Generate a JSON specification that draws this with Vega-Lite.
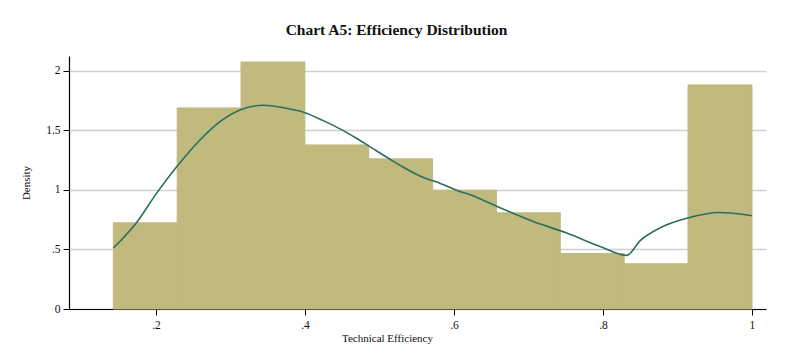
{
  "$schema": "https://vega.github.io/schema/vega-lite/v6.json",
  "autosize": "none",
  "width": 697,
  "height": 253,
  "padding": {"left": 69, "top": 56, "right": 25, "bottom": 52},
  "background": "white",
  "title": {"text": "Chart A5: Efficiency Distribution", "font": "Liberation Serif", "fontSize": 15.5, "fontWeight": "bold", "color": "#111111", "anchor": "middle", "dx": -21, "offset": 18},
  "config": {
    "view": {"stroke": null},
    "axis": {"labelFont": "Liberation Serif", "titleFont": "Liberation Serif", "labelFontSize": 11.5, "titleFontSize": 11, "titleFontWeight": "normal", "labelColor": "#111111", "titleColor": "#111111", "domainColor": "#000000", "tickColor": "#000000", "domainWidth": 1.2, "tickWidth": 1, "tickSize": 6}
  },
  "datasets": {
    "bins": [
      {"start": 0.1427, "end": 0.2284, "density": 0.724},
      {"start": 0.2284, "end": 0.3141, "density": 1.689},
      {"start": 0.3141, "end": 0.3998, "density": 2.075},
      {"start": 0.3998, "end": 0.4856, "density": 1.378},
      {"start": 0.4856, "end": 0.5713, "density": 1.261},
      {"start": 0.5713, "end": 0.6570, "density": 0.998},
      {"start": 0.6570, "end": 0.7427, "density": 0.808},
      {"start": 0.7427, "end": 0.8284, "density": 0.466},
      {"start": 0.8284, "end": 0.9141, "density": 0.380},
      {"start": 0.9141, "end": 1.0, "density": 1.882}
    ],
    "kde": [
      {"x": 0.1427, "y": 0.512},
      {"x": 0.174, "y": 0.727},
      {"x": 0.2009, "y": 0.973},
      {"x": 0.228, "y": 1.196},
      {"x": 0.259, "y": 1.420},
      {"x": 0.2859, "y": 1.574},
      {"x": 0.3128, "y": 1.672},
      {"x": 0.344, "y": 1.711},
      {"x": 0.3754, "y": 1.686},
      {"x": 0.400, "y": 1.649},
      {"x": 0.4245, "y": 1.582},
      {"x": 0.447, "y": 1.513},
      {"x": 0.469, "y": 1.434},
      {"x": 0.487, "y": 1.364},
      {"x": 0.514, "y": 1.258},
      {"x": 0.532, "y": 1.191},
      {"x": 0.559, "y": 1.104},
      {"x": 0.581, "y": 1.057},
      {"x": 0.608, "y": 0.987},
      {"x": 0.622, "y": 0.960},
      {"x": 0.6528, "y": 0.875},
      {"x": 0.7065, "y": 0.735},
      {"x": 0.7513, "y": 0.638},
      {"x": 0.796, "y": 0.525},
      {"x": 0.8318, "y": 0.450},
      {"x": 0.85, "y": 0.575},
      {"x": 0.8676, "y": 0.651},
      {"x": 0.8855, "y": 0.707},
      {"x": 0.9124, "y": 0.763},
      {"x": 0.957, "y": 0.810},
      {"x": 1.0, "y": 0.783}
    ]
  },
  "layer": [
    {
      "data": {"name": "bins"},
      "mark": {"type": "rect", "color": "#C0BA7E", "stroke": "#C0BA7E", "strokeWidth": 1, "strokeOpacity": 1, "opacity": 1},
      "encoding": {
        "x": {"field": "start", "type": "quantitative", "scale": {"domain": [0.0832, 1.0188], "nice": false, "zero": false},
          "axis": {"values": [0.2, 0.4, 0.6, 0.8, 1], "grid": false, "title": "Technical Efficiency", "labelExpr": "replace(toString(datum.value), /^0\\./, '.')", "labelPadding": 4, "titlePadding": 2, "titleX": 318}},
        "x2": {"field": "end"},
        "y": {"field": "density", "type": "quantitative", "scale": {"domain": [0, 2.125], "nice": false},
          "axis": {"values": [0, 0.5, 1, 1.5, 2], "grid": true, "gridColor": "#d0d0d0", "gridWidth": 1.5, "title": "Density", "labelExpr": "replace(toString(datum.value), /^0\\./, '.')", "labelPadding": 3, "titlePadding": 14}},
        "y2": {"datum": 0}
      }
    },
    {
      "data": {"name": "kde"},
      "mark": {"type": "line", "color": "#2A6E62", "strokeWidth": 1.6, "interpolate": "monotone"},
      "encoding": {
        "x": {"field": "x", "type": "quantitative"},
        "y": {"field": "y", "type": "quantitative"}
      }
    }
  ]
}
